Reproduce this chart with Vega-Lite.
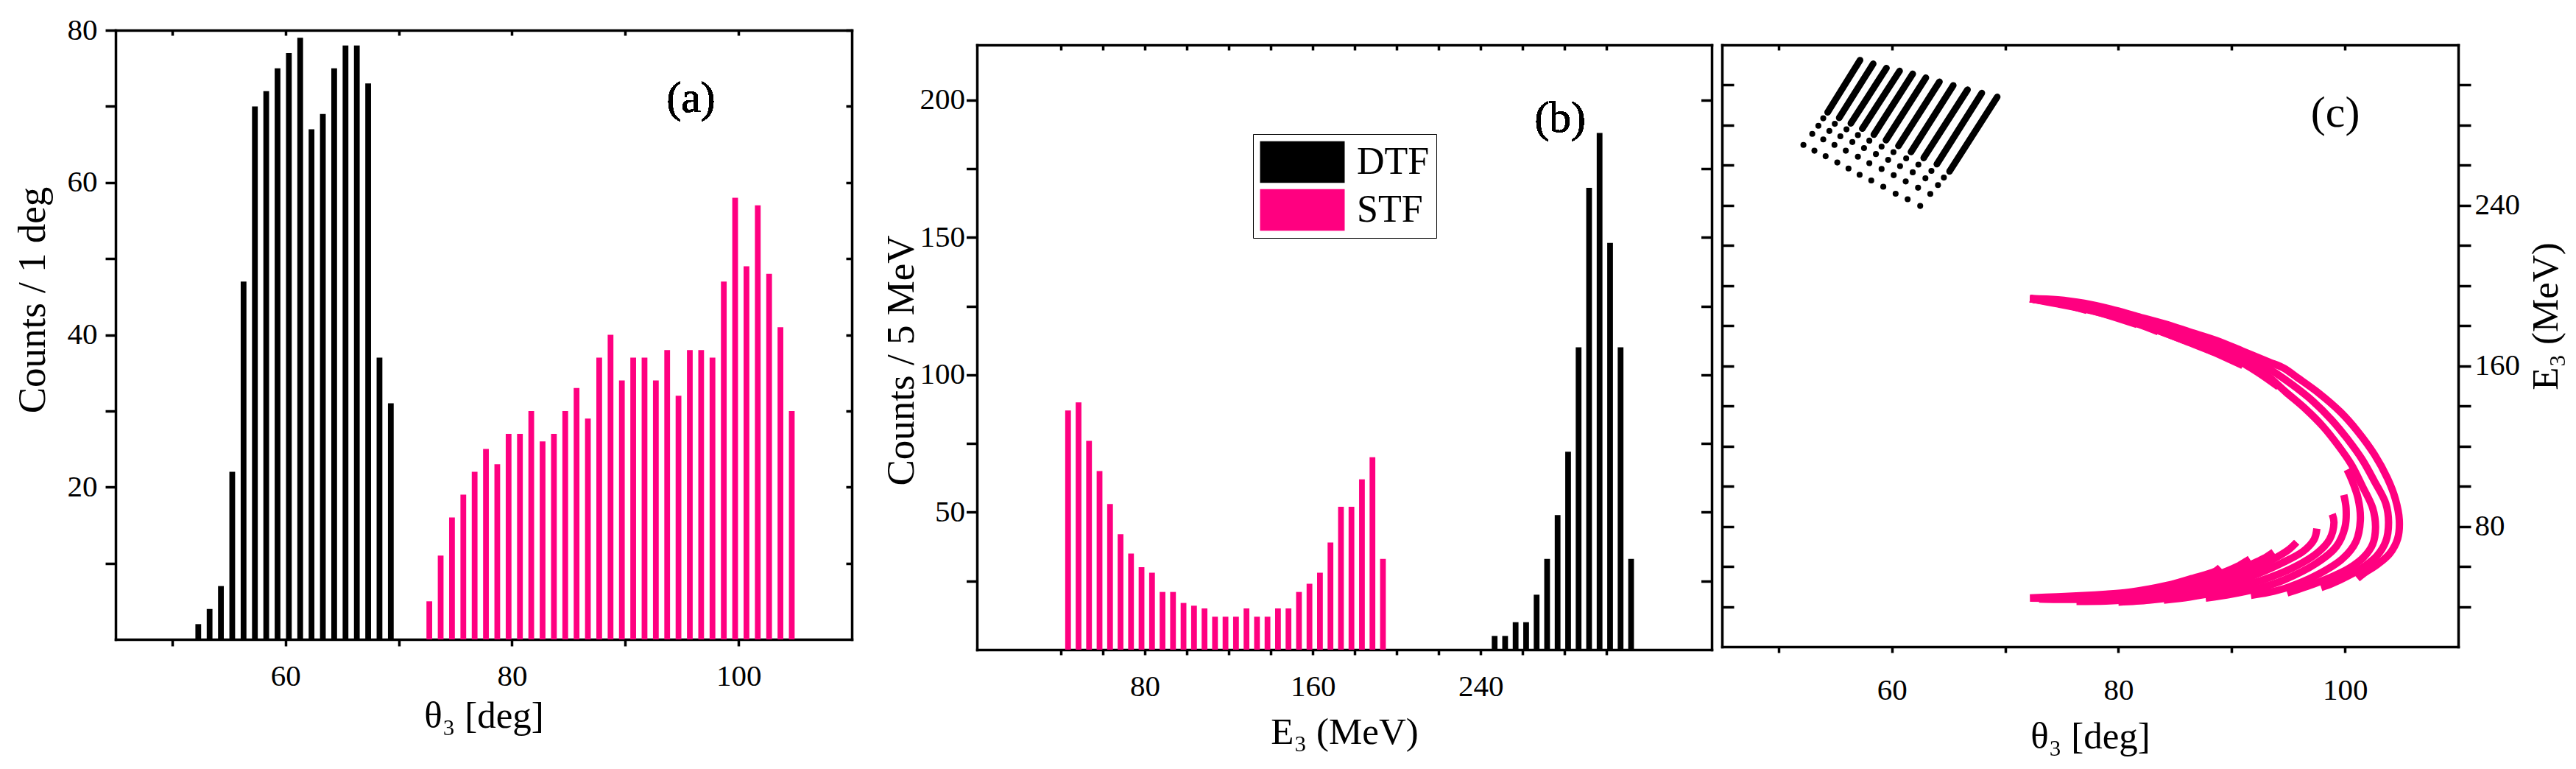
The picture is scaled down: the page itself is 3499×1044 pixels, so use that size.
{
  "$schema": "https://vega.github.io/schema/vega-lite/v6.json",
  "padding": {"left": 18, "top": 20, "right": 5, "bottom": 5},
  "config": {
    "font": "Liberation Serif",
    "view": {"stroke": null},
    "axis": {"grid": false, "domainColor": "#000000", "domainWidth": 3.5, "domainCap": "square", "tickColor": "#000000", "tickWidth": 3.5, "labelColor": "#000000", "titleColor": "#000000", "labelFont": "Liberation Serif", "titleFont": "Liberation Serif", "labelFontSize": 41, "titleFontSize": 51, "titleFontWeight": "normal", "labelFlush": false, "labelOverlap": false, "labelBound": false}
  },
  "datasets": {
    "a": [
      {"t":52.3,"n":2,"s":"DTF"},{"t":53.3,"n":4,"s":"DTF"},{"t":54.3,"n":7,"s":"DTF"},{"t":55.3,"n":22,"s":"DTF"},{"t":56.3,"n":47,"s":"DTF"},{"t":57.3,"n":70,"s":"DTF"},{"t":58.3,"n":72,"s":"DTF"},{"t":59.3,"n":75,"s":"DTF"},{"t":60.3,"n":77,"s":"DTF"},{"t":61.3,"n":79,"s":"DTF"},{"t":62.3,"n":67,"s":"DTF"},{"t":63.3,"n":69,"s":"DTF"},{"t":64.3,"n":75,"s":"DTF"},{"t":65.3,"n":78,"s":"DTF"},{"t":66.3,"n":78,"s":"DTF"},{"t":67.3,"n":73,"s":"DTF"},{"t":68.3,"n":37,"s":"DTF"},{"t":69.3,"n":31,"s":"DTF"},
      {"t":72.7,"n":5,"s":"STF"},{"t":73.7,"n":11,"s":"STF"},{"t":74.7,"n":16,"s":"STF"},{"t":75.7,"n":19,"s":"STF"},{"t":76.7,"n":22,"s":"STF"},{"t":77.7,"n":25,"s":"STF"},{"t":78.7,"n":23,"s":"STF"},{"t":79.7,"n":27,"s":"STF"},{"t":80.7,"n":27,"s":"STF"},{"t":81.7,"n":30,"s":"STF"},{"t":82.7,"n":26,"s":"STF"},{"t":83.7,"n":27,"s":"STF"},{"t":84.7,"n":30,"s":"STF"},{"t":85.7,"n":33,"s":"STF"},{"t":86.7,"n":29,"s":"STF"},{"t":87.7,"n":37,"s":"STF"},{"t":88.7,"n":40,"s":"STF"},{"t":89.7,"n":34,"s":"STF"},{"t":90.7,"n":37,"s":"STF"},{"t":91.7,"n":37,"s":"STF"},{"t":92.7,"n":34,"s":"STF"},{"t":93.7,"n":38,"s":"STF"},{"t":94.7,"n":32,"s":"STF"},{"t":95.7,"n":38,"s":"STF"},{"t":96.7,"n":38,"s":"STF"},{"t":97.7,"n":37,"s":"STF"},{"t":98.7,"n":47,"s":"STF"},{"t":99.7,"n":58,"s":"STF"},{"t":100.7,"n":49,"s":"STF"},{"t":101.7,"n":57,"s":"STF"},{"t":102.7,"n":48,"s":"STF"},{"t":103.7,"n":41,"s":"STF"},{"t":104.7,"n":30,"s":"STF"}
    ],
    "b": [
      {"e":246.6,"n":5,"s":"DTF"},{"e":251.6,"n":5,"s":"DTF"},{"e":256.6,"n":10,"s":"DTF"},{"e":261.6,"n":10,"s":"DTF"},{"e":266.6,"n":20,"s":"DTF"},{"e":271.6,"n":33,"s":"DTF"},{"e":276.6,"n":49,"s":"DTF"},{"e":281.6,"n":72,"s":"DTF"},{"e":286.6,"n":110,"s":"DTF"},{"e":291.6,"n":168,"s":"DTF"},{"e":296.6,"n":188,"s":"DTF"},{"e":301.6,"n":148,"s":"DTF"},{"e":306.6,"n":110,"s":"DTF"},{"e":311.6,"n":33,"s":"DTF"},
      {"e":43.4,"n":87,"s":"STF"},{"e":48.4,"n":90,"s":"STF"},{"e":53.4,"n":76,"s":"STF"},{"e":58.4,"n":65,"s":"STF"},{"e":63.4,"n":53,"s":"STF"},{"e":68.4,"n":42,"s":"STF"},{"e":73.4,"n":35,"s":"STF"},{"e":78.4,"n":30,"s":"STF"},{"e":83.4,"n":28,"s":"STF"},{"e":88.4,"n":21,"s":"STF"},{"e":93.4,"n":21,"s":"STF"},{"e":98.4,"n":17,"s":"STF"},{"e":103.4,"n":16,"s":"STF"},{"e":108.4,"n":15,"s":"STF"},{"e":113.4,"n":12,"s":"STF"},{"e":118.4,"n":12,"s":"STF"},{"e":123.4,"n":12,"s":"STF"},{"e":128.4,"n":15,"s":"STF"},{"e":133.4,"n":12,"s":"STF"},{"e":138.4,"n":12,"s":"STF"},{"e":143.4,"n":15,"s":"STF"},{"e":148.4,"n":15,"s":"STF"},{"e":153.4,"n":21,"s":"STF"},{"e":158.4,"n":24,"s":"STF"},{"e":163.4,"n":28,"s":"STF"},{"e":168.4,"n":39,"s":"STF"},{"e":173.4,"n":52,"s":"STF"},{"e":178.4,"n":52,"s":"STF"},{"e":183.4,"n":62,"s":"STF"},{"e":188.4,"n":70,"s":"STF"},{"e":193.4,"n":33,"s":"STF"}
    ],
    "cdots": [
      {"t":52.19,"e":270.15},{"t":53.16,"e":267.27},{"t":54.15,"e":264.52},{"t":55.18,"e":261.40},{"t":56.17,"e":258.41},{"t":57.15,"e":255.30},{"t":58.18,"e":252.43},{"t":59.24,"e":249.31},{"t":60.33,"e":245.84},{"t":61.39,"e":243.09},{"t":62.50,"e":239.73},
      {"t":52.97,"e":275.65},{"t":53.94,"e":272.90},{"t":54.93,"e":270.15},{"t":55.93,"e":267.27},{"t":57.00,"e":264.28},{"t":58.01,"e":261.05},{"t":59.09,"e":258.17},{"t":60.16,"e":255.06},{"t":61.22,"e":251.95},{"t":62.31,"e":248.83},{"t":63.39,"e":245.72},
      {"t":53.51,"e":279.72},{"t":54.48,"e":277.09},{"t":55.45,"e":274.46},{"t":56.51,"e":271.58},{"t":57.54,"e":268.59},{"t":58.59,"e":265.60},{"t":59.67,"e":262.72},{"t":60.72,"e":259.61},{"t":61.84,"e":256.50},{"t":62.96,"e":253.50},{"t":64.07,"e":250.15},
      {"t":53.94,"e":283.44},{"t":54.96,"e":280.68},{"t":55.99,"e":277.93},{"t":57.00,"e":275.05},{"t":58.01,"e":272.30},{"t":59.09,"e":269.31},{"t":60.14,"e":266.55},{"t":61.26,"e":263.44},{"t":62.34,"e":260.33},{"t":63.49,"e":257.21},{"t":64.59,"e":253.86},
      {"t":54.33,"e":286.43},{"t":55.35,"e":283.68},{"t":56.38,"e":280.92},{"t":57.39,"e":278.29},{"t":58.41,"e":275.29},{"t":59.48,"e":272.54},{"t":60.58,"e":269.67},{"t":61.69,"e":266.67},{"t":62.81,"e":263.68},{"t":63.97,"e":260.57},{"t":65.09,"e":256.97}
    ],
    "clines": [
      {"t":54.33,"e":286.43,"k":"0"},{"t":57.19,"e":312.41,"k":"0"},
      {"t":55.35,"e":283.68,"k":"1"},{"t":58.35,"e":310.61,"k":"1"},
      {"t":56.38,"e":280.92,"k":"2"},{"t":59.52,"e":308.46,"k":"2"},
      {"t":57.39,"e":278.29,"k":"3"},{"t":60.68,"e":307.02,"k":"3"},
      {"t":58.41,"e":275.29,"k":"4"},{"t":61.84,"e":305.59,"k":"4"},
      {"t":59.48,"e":272.54,"k":"5"},{"t":63.00,"e":303.67,"k":"5"},
      {"t":60.58,"e":269.67,"k":"6"},{"t":64.20,"e":301.63,"k":"6"},
      {"t":61.69,"e":266.67,"k":"7"},{"t":65.42,"e":299.84,"k":"7"},
      {"t":62.81,"e":263.68,"k":"8"},{"t":66.68,"e":297.68,"k":"8"},
      {"t":63.97,"e":260.57,"k":"9"},{"t":67.94,"e":296.01,"k":"9"},
      {"t":65.09,"e":256.97,"k":"10"},{"t":69.30,"e":294.09,"k":"10"}
    ],
    "cpink": [
      {"t":72.2,"e":193.5,"c":"1"},{"t":74.65,"e":193.0,"c":"1"},{"t":76.98,"e":191.2,"c":"1"},{"t":79.32,"e":188.3,"c":"1"},{"t":81.65,"e":184.7,"c":"1"},{"t":83.99,"e":181.1,"c":"1"},{"t":86.32,"e":176.9,"c":"1"},{"t":88.65,"e":172.7,"c":"1"},{"t":90.99,"e":167.3,"c":"1"},{"t":93.32,"e":161.9,"c":"1"},{"t":94.58,"e":158.9,"c":"1"},{"t":95.84,"e":154.0,"c":"1"},{"t":97.72,"e":146.3,"c":"1"},{"t":99.61,"e":137.0,"c":"1"},{"t":101.12,"e":127.4,"c":"1"},{"t":102.62,"e":115.7,"c":"1"},{"t":103.74,"e":104.1,"c":"1"},{"t":104.45,"e":93.7,"c":"1"},{"t":104.8,"e":83.1,"c":"1"},{"t":104.65,"e":73.8,"c":"1"},{"t":103.95,"e":66.4,"c":"1"},{"t":102.87,"e":61.0,"c":"1"},{"t":101.65,"e":56.5,"c":"1"},{"t":101.1,"e":54.0,"c":"1"},
      {"t":72.2,"e":193.5,"c":"2"},{"t":74.65,"e":192.6,"c":"2"},{"t":76.98,"e":190.5,"c":"2"},{"t":79.32,"e":187.3,"c":"2"},{"t":81.65,"e":183.5,"c":"2"},{"t":83.99,"e":179.6,"c":"2"},{"t":86.32,"e":175.2,"c":"2"},{"t":88.65,"e":170.6,"c":"2"},{"t":90.99,"e":164.8,"c":"2"},{"t":93.32,"e":158.4,"c":"2"},{"t":95.35,"e":150.6,"c":"2"},{"t":97.19,"e":142.3,"c":"2"},{"t":98.84,"e":133.0,"c":"2"},{"t":100.19,"e":123.8,"c":"2"},{"t":101.55,"e":113.1,"c":"2"},{"t":102.62,"e":102.3,"c":"2"},{"t":103.6,"e":91.5,"c":"2"},{"t":103.85,"e":81.9,"c":"2"},{"t":103.6,"e":72.4,"c":"2"},{"t":102.81,"e":65.2,"c":"2"},{"t":101.65,"e":59.8,"c":"2"},{"t":100.19,"e":55.0,"c":"2"},{"t":98.84,"e":51.4,"c":"2"},{"t":97.9,"e":49.5,"c":"2"},
      {"t":72.2,"e":193.5,"c":"3"},{"t":74.65,"e":192.3,"c":"3"},{"t":76.98,"e":190.0,"c":"3"},{"t":79.32,"e":186.5,"c":"3"},{"t":81.65,"e":182.4,"c":"3"},{"t":83.99,"e":178.2,"c":"3"},{"t":86.32,"e":173.6,"c":"3"},{"t":88.65,"e":168.6,"c":"3"},{"t":90.99,"e":162.6,"c":"3"},{"t":93.0,"e":155.8,"c":"3"},{"t":94.77,"e":147.0,"c":"3"},{"t":96.51,"e":138.6,"c":"3"},{"t":98.06,"e":129.8,"c":"3"},{"t":99.42,"e":120.2,"c":"3"},{"t":100.58,"e":110.7,"c":"3"},{"t":101.55,"e":99.9,"c":"3"},{"t":102.45,"e":89.1,"c":"3"},{"t":102.7,"e":79.5,"c":"3"},{"t":102.45,"e":71.1,"c":"3"},{"t":101.65,"e":64.6,"c":"3"},{"t":100.39,"e":59.2,"c":"3"},{"t":98.65,"e":54.4,"c":"3"},{"t":96.71,"e":50.2,"c":"3"},{"t":94.9,"e":46.8,"c":"3"},
      {"t":72.2,"e":193.5,"c":"4u"},{"t":76.98,"e":189.7,"c":"4u"},{"t":81.65,"e":182.1,"c":"4u"},{"t":86.32,"e":172.6,"c":"4u"},{"t":90.99,"e":161.3,"c":"4u"},{"t":94.14,"e":149.5,"c":"4u"},
      {"t":72.2,"e":193.5,"c":"5u"},{"t":76.98,"e":189.5,"c":"5u"},{"t":81.65,"e":181.9,"c":"5u"},{"t":86.32,"e":172.0,"c":"5u"},{"t":90.99,"e":160.2,"c":"5u"},
      {"t":72.2,"e":193.5,"c":"6u"},{"t":76.98,"e":189.3,"c":"6u"},{"t":81.65,"e":181.6,"c":"6u"},{"t":86.32,"e":171.5,"c":"6u"},{"t":88.42,"e":166.8,"c":"6u"},
      {"t":72.2,"e":193.5,"c":"7u"},{"t":76.98,"e":189.1,"c":"7u"},{"t":81.65,"e":181.3,"c":"7u"},{"t":85.85,"e":172.6,"c":"7u"},
      {"t":72.2,"e":193.5,"c":"8u"},{"t":76.98,"e":188.9,"c":"8u"},{"t":81.65,"e":181.0,"c":"8u"},{"t":83.52,"e":177.0,"c":"8u"},
      {"t":72.2,"e":193.5,"c":"9u"},{"t":76.98,"e":188.6,"c":"9u"},{"t":81.65,"e":180.6,"c":"9u"},
      {"t":72.2,"e":193.5,"c":"10u"},{"t":76.98,"e":188.3,"c":"10u"},{"t":79.55,"e":184.8,"c":"10u"},
      {"t":72.2,"e":193.5,"c":"11u"},{"t":74.65,"e":191.4,"c":"11u"},{"t":77.22,"e":187.6,"c":"11u"},
      {"t":100.19,"e":108.3,"c":"4l"},{"t":100.58,"e":103.5,"c":"4l"},{"t":101.16,"e":93.9,"c":"4l"},{"t":101.36,"e":83.1,"c":"4l"},{"t":100.97,"e":72.4,"c":"4l"},{"t":99.81,"e":64.0,"c":"4l"},{"t":97.48,"e":55.6,"c":"4l"},{"t":94.97,"e":49.6,"c":"4l"},{"t":93.2,"e":47.0,"c":"4l"},{"t":91.7,"e":45.6,"c":"4l"},
      {"t":99.9,"e":95.7,"c":"5l"},{"t":100.1,"e":89.1,"c":"5l"},{"t":100.0,"e":79.5,"c":"5l"},{"t":99.23,"e":69.9,"c":"5l"},{"t":97.48,"e":61.6,"c":"5l"},{"t":94.58,"e":53.2,"c":"5l"},{"t":92.5,"e":49.3,"c":"5l"},{"t":90.0,"e":46.2,"c":"5l"},{"t":87.7,"e":44.2,"c":"5l"},
      {"t":98.88,"e":86.1,"c":"6l"},{"t":99.03,"e":81.9,"c":"6l"},{"t":98.65,"e":73.6,"c":"6l"},{"t":97.48,"e":66.4,"c":"6l"},{"t":95.35,"e":59.2,"c":"6l"},{"t":93.0,"e":53.8,"c":"6l"},{"t":90.5,"e":49.6,"c":"6l"},{"t":88.57,"e":47.0,"c":"6l"},{"t":86.3,"e":44.8,"c":"6l"},{"t":84.0,"e":43.2,"c":"6l"},
      {"t":97.52,"e":78.9,"c":"7l"},{"t":97.29,"e":73.6,"c":"7l"},{"t":96.32,"e":67.6,"c":"7l"},{"t":94.38,"e":61.6,"c":"7l"},{"t":92.5,"e":56.8,"c":"7l"},{"t":90.5,"e":52.5,"c":"7l"},{"t":88.57,"e":49.2,"c":"7l"},{"t":86.5,"e":46.5,"c":"7l"},{"t":84.7,"e":44.6,"c":"7l"},{"t":82.7,"e":43.2,"c":"7l"},{"t":80.0,"e":42.2,"c":"7l"},
      {"t":95.74,"e":72.1,"c":"8l"},{"t":94.97,"e":68.1,"c":"8l"},{"t":93.42,"e":62.8,"c":"8l"},{"t":92.0,"e":58.6,"c":"8l"},{"t":90.5,"e":54.7,"c":"8l"},{"t":88.57,"e":51.2,"c":"8l"},{"t":86.5,"e":48.2,"c":"8l"},{"t":84.7,"e":46.0,"c":"8l"},{"t":82.7,"e":44.4,"c":"8l"},{"t":80.82,"e":43.4,"c":"8l"},{"t":78.9,"e":42.8,"c":"8l"},{"t":76.3,"e":42.6,"c":"8l"},
      {"t":93.7,"e":67.2,"c":"9l"},{"t":92.83,"e":64.0,"c":"9l"},{"t":91.5,"e":60.5,"c":"9l"},{"t":90.0,"e":56.8,"c":"9l"},{"t":88.57,"e":53.5,"c":"9l"},{"t":86.5,"e":50.0,"c":"9l"},{"t":84.7,"e":47.6,"c":"9l"},{"t":82.7,"e":45.8,"c":"9l"},{"t":80.82,"e":44.7,"c":"9l"},{"t":78.9,"e":44.0,"c":"9l"},{"t":76.95,"e":43.6,"c":"9l"},{"t":74.6,"e":43.6,"c":"9l"},{"t":73.0,"e":43.8,"c":"9l"},
      {"t":91.6,"e":63.7,"c":"10l"},{"t":90.5,"e":60.0,"c":"10l"},{"t":88.57,"e":55.5,"c":"10l"},{"t":86.5,"e":51.8,"c":"10l"},{"t":84.7,"e":49.3,"c":"10l"},{"t":82.7,"e":47.3,"c":"10l"},{"t":80.82,"e":45.9,"c":"10l"},{"t":78.9,"e":45.0,"c":"10l"},{"t":76.95,"e":44.5,"c":"10l"},{"t":74.6,"e":44.2,"c":"10l"},{"t":72.2,"e":44.2,"c":"10l"},
      {"t":89.0,"e":59.5,"c":"11l"},{"t":88.57,"e":57.7,"c":"11l"},{"t":86.5,"e":54.0,"c":"11l"},{"t":84.7,"e":51.1,"c":"11l"},{"t":82.7,"e":48.8,"c":"11l"},{"t":80.82,"e":47.1,"c":"11l"},{"t":78.9,"e":46.2,"c":"11l"},{"t":76.95,"e":45.5,"c":"11l"},{"t":74.6,"e":44.9,"c":"11l"},{"t":72.2,"e":44.3,"c":"11l"}
    ]
  },
  "bounds": "flush",
  "spacing": 170,
  "resolve": {"scale": {"color": "independent"}, "legend": {"color": "independent"}},
  "hconcat": [
    {
      "width": 1000,
      "height": 827,
      "data": {"name": "a"},
      "layer": [
        {
          "mark": {"type": "bar", "width": 7.8, "clip": true},
          "encoding": {
            "x": {"field": "t", "type": "quantitative", "scale": {"domain": [49, 107]},
                  "axis": {"orient": "bottom", "values": [50, 60, 70, 80, 90, 100], "labelExpr": "datum.value % 20 === 0 ? datum.label : ''", "tickSize": 9, "labelPadding": 53, "labelBaseline": "alphabetic", "title": "θ₃ [deg]", "titleY": 119, "titleBaseline": "alphabetic"}},
            "y": {"field": "n", "type": "quantitative", "scale": {"domain": [1, 80]},
                  "axis": {"orient": "left", "values": [10, 20, 30, 40, 50, 60, 70, 80], "labelExpr": "datum.value % 20 === 0 ? datum.label : ''", "tickSize": 14, "labelPadding": 11, "labelBaseline": "middle", "title": "Counts / 1 deg", "titleFontSize": 53, "titleAngle": 270, "titleX": -97, "titleY": 366, "titleBaseline": "alphabetic", "titleAlign": "center"}},
            "color": {"field": "s", "type": "nominal", "scale": {"domain": ["DTF", "STF"], "range": ["#000000", "#FF0080"]}, "legend": null}
          }
        },
        {
          "mark": {"type": "bar", "width": 1, "opacity": 0, "clip": true},
          "encoding": {
            "x": {"field": "t", "type": "quantitative", "scale": {"domain": [49, 107]},
                  "axis": {"orient": "top", "values": [50, 60, 70, 80, 90, 100], "labels": false, "title": null, "tickSize": -7}},
            "y": {"field": "n", "type": "quantitative", "scale": {"domain": [1, 80]},
                  "axis": {"orient": "right", "values": [10, 20, 30, 40, 50, 60, 70, 80], "labels": false, "title": null, "tickSize": -8}}
          }
        },
        {
          "mark": {"type": "text", "fontSize": 60, "font": "Liberation Serif", "align": "center", "baseline": "alphabetic", "color": "#000000"},
          "encoding": {
            "x": {"datum": 95.8, "type": "quantitative", "axis": null},
            "y": {"datum": 69.3, "type": "quantitative", "axis": null},
            "text": {"value": "(a)"}
          }
        }
      ],
      "resolve": {"axis": {"x": "independent", "y": "independent"}}
    },
    {
      "bounds": "flush",
      "spacing": 19,
      "resolve": {"scale": {"color": "independent"}, "legend": {"color": "independent"}},
      "vconcat": [
        {
          "width": 1,
          "height": 1,
          "data": {"values": [{"z": 0}]},
          "mark": {"type": "point", "opacity": 0},
          "encoding": {}
        },
        {
          "bounds": "flush",
          "spacing": 14,
          "resolve": {"scale": {"color": "independent"}, "legend": {"color": "independent"}},
          "hconcat": [
            {
              "width": 998,
              "height": 821,
              "data": {"name": "b"},
              "layer": [
                {
                  "mark": {"type": "bar", "width": 7.8, "clip": true},
                  "encoding": {
                    "x": {"field": "e", "type": "quantitative", "scale": {"domain": [24.8, 319.1]},
                          "axis": {"orient": "bottom", "values": [40, 60, 80, 100, 120, 140, 160, 180, 200, 220, 240, 260, 280, 300], "labelExpr": "datum.value % 80 === 0 ? datum.label : ''", "tickSize": 7, "labelPadding": 55, "labelBaseline": "alphabetic", "title": "E₃ (MeV)", "titleY": 127, "titleBaseline": "alphabetic"}},
                    "y": {"field": "n", "type": "quantitative", "scale": {"domain": [0.84, 209.8]},
                          "axis": {"orient": "left", "values": [25, 50, 75, 100, 125, 150, 175, 200], "labelExpr": "datum.value % 50 === 0 ? datum.label : ''", "tickSize": 14.5, "labelPadding": 2, "labelBaseline": "middle", "title": "Counts / 5 MeV", "titleFontSize": 53, "titleAngle": 270, "titleX": -87, "titleY": 428, "titleBaseline": "alphabetic", "titleAlign": "center"}},
                    "color": {"field": "s", "type": "nominal", "scale": {"domain": ["DTF", "STF"], "range": ["#000000", "#FF0080"]},
                              "legend": {"orient": "none", "legendX": 375, "legendY": 121, "title": null, "symbolType": "M-2,-0.98H2V0.98H-2Z", "symbolSize": 3306, "symbolStrokeWidth": 0, "symbolOffset": 29, "labelOffset": 45, "labelFontSize": 52, "labelFont": "Liberation Serif", "labelColor": "#000000", "labelBaseline": "middle", "strokeColor": "#000000", "fillColor": "#ffffff", "padding": 9, "rowPadding": 7}}
                  }
                },
                {
                  "mark": {"type": "bar", "width": 1, "opacity": 0, "clip": true},
                  "encoding": {
                    "x": {"field": "e", "type": "quantitative", "scale": {"domain": [24.8, 319.1]},
                          "axis": {"orient": "top", "values": [40, 60, 80, 100, 120, 140, 160, 180, 200, 220, 240, 260, 280, 300], "labels": false, "title": null, "tickSize": -7}},
                    "y": {"field": "n", "type": "quantitative", "scale": {"domain": [0.84, 209.8]},
                          "axis": {"orient": "right", "values": [25, 50, 75, 100, 125, 150, 175, 200], "labels": false, "title": null, "tickSize": -14.5}}
                  }
                },
                {
                  "mark": {"type": "text", "fontSize": 60, "font": "Liberation Serif", "align": "center", "baseline": "alphabetic", "color": "#000000"},
                  "encoding": {
                    "x": {"datum": 277.8, "type": "quantitative", "axis": null},
                    "y": {"datum": 188.3, "type": "quantitative", "axis": null},
                    "text": {"value": "(b)"}
                  }
                }
              ],
              "resolve": {"axis": {"x": "independent", "y": "independent"}}
            },
            {
              "width": 1000,
              "height": 817,
              "layer": [
                {
                  "data": {"name": "cpink"},
                  "mark": {"type": "line", "strokeWidth": 10, "color": "#FF0080", "interpolate": "catmull-rom", "strokeCap": "butt"},
                  "encoding": {
                    "x": {"field": "t", "type": "quantitative", "scale": {"domain": [49, 107]},
                          "axis": {"orient": "bottom", "values": [50, 60, 70, 80, 90, 100], "labelExpr": "datum.value % 20 === 0 ? datum.label : ''", "tickSize": 8, "labelPadding": 63, "labelBaseline": "alphabetic", "title": "θ₃ [deg]", "titleY": 137, "titleBaseline": "alphabetic"}},
                    "y": {"field": "e", "type": "quantitative", "scale": {"domain": [25.2, 319]},
                          "axis": {"orient": "right", "values": [40, 60, 80, 100, 120, 140, 160, 180, 200, 220, 240, 260, 280, 300], "labelExpr": "datum.value % 80 === 0 ? datum.label : ''", "tickSize": 17, "labelPadding": 5, "labelBaseline": "middle", "title": "E₃ (MeV)", "titleAngle": 270, "titleX": 134, "titleY": 368, "titleBaseline": "alphabetic", "titleAlign": "center"}},
                    "detail": {"field": "c", "type": "nominal"},
                    "order": {"value": null}
                  }
                },
                {
                  "data": {"name": "clines"},
                  "mark": {"type": "line", "strokeWidth": 9, "color": "#000000", "strokeCap": "round"},
                  "encoding": {
                    "x": {"field": "t", "type": "quantitative", "scale": {"domain": [49, 107]},
                          "axis": {"orient": "top", "values": [50, 60, 70, 80, 90, 100], "labels": false, "title": null, "tickSize": -7}},
                    "y": {"field": "e", "type": "quantitative", "scale": {"domain": [25.2, 319]},
                          "axis": {"orient": "left", "values": [40, 60, 80, 100, 120, 140, 160, 180, 200, 220, 240, 260, 280, 300], "labels": false, "title": null, "tickSize": -16}},
                    "detail": {"field": "k", "type": "nominal"},
                    "order": {"value": null}
                  }
                },
                {
                  "data": {"name": "cdots"},
                  "mark": {"type": "point", "filled": true, "size": 66, "color": "#000000", "opacity": 1, "strokeWidth": 0},
                  "encoding": {
                    "x": {"field": "t", "type": "quantitative", "scale": {"domain": [49, 107]}, "axis": null},
                    "y": {"field": "e", "type": "quantitative", "scale": {"domain": [25.2, 319]}, "axis": null}
                  }
                },
                {
                  "data": {"values": [{"z": 0}]},
                  "mark": {"type": "text", "fontSize": 60, "font": "Liberation Serif", "align": "center", "baseline": "alphabetic", "color": "#000000"},
                  "encoding": {
                    "x": {"datum": 99.15, "type": "quantitative", "axis": null},
                    "y": {"datum": 279.1, "type": "quantitative", "axis": null},
                    "text": {"value": "(c)"}
                  }
                }
              ],
              "resolve": {"axis": {"x": "independent", "y": "independent"}}
            }
          ]
        }
      ]
    }
  ]
}
